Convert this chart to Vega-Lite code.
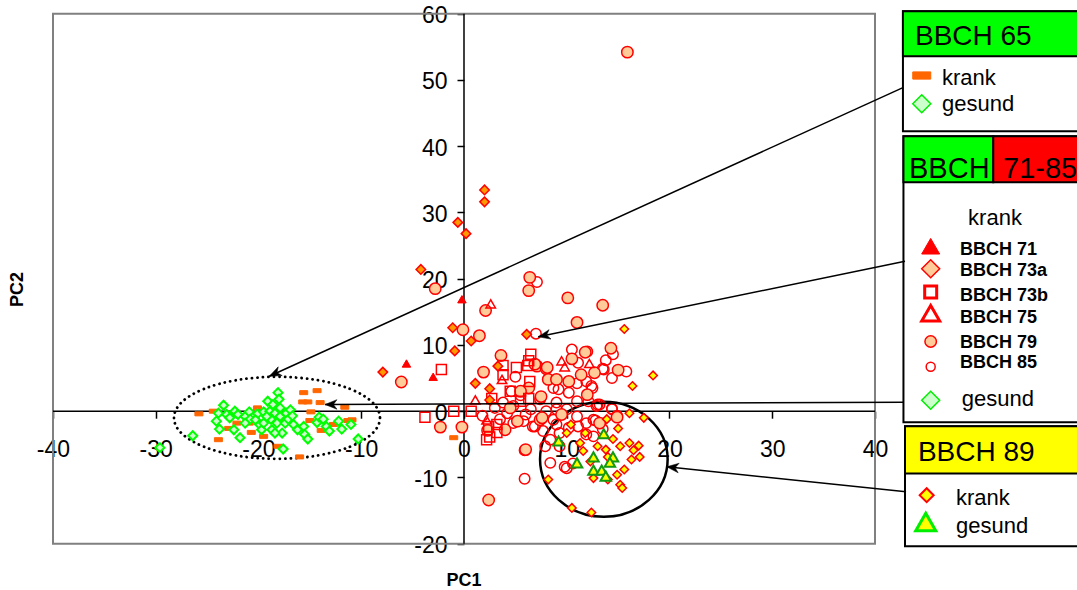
{
  "$schema": "https://vega.github.io/schema/vega-lite/v6.json",
  "width": 1077,
  "height": 590,
  "padding": 0,
  "autosize": {"type": "none"},
  "background": "white",
  "config": {"view": {"stroke": null}, "font": "Liberation Sans", "axis": {"grid": false}},
  "resolve": {"scale": {"fill": "independent", "stroke": "independent", "shape": "independent", "size": "independent", "strokeWidth": "independent"}},
  "encoding": {
    "x": {"field": "x", "type": "quantitative",
      "scale": {"domain": [-45.158, 59.66], "nice": false, "zero": false},
      "axis": {"orient": "bottom", "offset": -178.8, "values": [-40, -30, -20, -10, 0, 10, 20, 30, 40],
        "domain": false, "ticks": true, "tickSize": 7, "tickColor": "black", "tickWidth": 1.5,
        "labelFont": "Liberation Sans", "labelFontSize": 23, "labelColor": "black", "labelPadding": 20,
        "labelExpr": "datum.value < 0 ? '-' + (-datum.value) : '' + datum.value",
        "labelFlush": false, "labelOverlap": false, "labelBound": false, "title": null}},
    "y": {"field": "y", "type": "quantitative",
      "scale": {"domain": [-26.989, 62.068], "nice": false, "zero": false},
      "axis": {"orient": "left", "offset": -464, "values": [-20, -10, 0, 10, 20, 30, 40, 50, 60],
        "domain": false, "ticks": true, "tickSize": 7, "tickColor": "black", "tickWidth": 1.5,
        "labelFont": "Liberation Sans", "labelFontSize": 23, "labelColor": "black", "labelPadding": 10, "labelOffset": 2,
        "labelExpr": "datum.value < 0 ? '-' + (-datum.value) : '' + datum.value",
        "labelFlush": false, "labelOverlap": false, "labelBound": false, "title": null}}
  },
  "layer": [
    {
      "data": {"values": [{"x": -40, "x2": 40, "y": -20, "y2": 60}]},
      "mark": {"type": "rect", "fill": "transparent", "stroke": "#808080", "strokeWidth": 2},
      "encoding": {"x2": {"field": "x2"}, "y2": {"field": "y2"}}
    },
    {
      "data": {"values": [{"x": -40, "x2": 40, "y": 0, "y2": 0}, {"x": 0, "x2": 0, "y": -20, "y2": 60}]},
      "mark": {"type": "rule", "color": "black", "strokeWidth": 1.5},
      "encoding": {"x2": {"field": "x2"}, "y2": {"field": "y2"}}
    },
    {
      "data": {"values": [
        {"k": "b1", "x": 42.72, "x2": 61, "y": 42.26, "y2": 60.38},
        {"k": "h1", "x": 42.72, "x2": 61, "y": 53.58, "y2": 60.38},
        {"k": "b2", "x": 42.77, "x2": 61, "y": -1.66, "y2": 41.51},
        {"k": "h2g", "x": 42.77, "x2": 51.51, "y": 34.57, "y2": 41.51},
        {"k": "h2r", "x": 51.51, "x2": 61, "y": 34.57, "y2": 41.51},
        {"k": "b3", "x": 42.92, "x2": 61, "y": -20.38, "y2": -2.26},
        {"k": "h3", "x": 42.92, "x2": 61, "y": -9.4, "y2": -2.26}
      ]},
      "mark": {"type": "rect", "stroke": "black", "strokeWidth": 2, "opacity": 1},
      "encoding": {
        "x2": {"field": "x2"}, "y2": {"field": "y2"},
        "fill": {"field": "k", "type": "nominal", "legend": null,
          "scale": {"domain": ["b1", "h1", "b2", "h2g", "h2r", "b3", "h3"],
            "range": ["white", "#00FF00", "white", "#00FF00", "#FF0000", "white", "#FFFF00"]}}
      }
    },
    {
      "data": {"values": [{"x": -18.2, "y": -1.0}]},
      "mark": {"type": "point", "shape": "M1,0C1,0.2198,0.5523,0.398,0,0.398C-0.5523,0.398,-1,0.2198,-1,0C-1,-0.2198,-0.5523,-0.398,0,-0.398C0.5523,-0.398,1,-0.2198,1,0Z",
        "size": 42436, "filled": false, "fill": null, "stroke": "black", "strokeWidth": 2.8, "strokeDash": [0.1, 5.4], "strokeCap": "round", "opacity": 1}
    },
    {
      "data": {"values": [{"x": 13.61, "y": -7.26}]},
      "mark": {"type": "point", "shape": "M1,0C1,0.4976,0.5523,0.901,0,0.901C-0.5523,0.901,-1,0.4976,-1,0C-1,-0.4976,-0.5523,-0.901,0,-0.901C0.5523,-0.901,1,-0.4976,1,0Z",
        "size": 16282, "filled": false, "fill": null, "stroke": "black", "strokeWidth": 2.5, "opacity": 1}
    },
    {
      "data": {"values": [
        {"s":"65k","x":-25.8,"y":-0.4},{"s":"65k","x":-24.4,"y":0.0},{"s":"65k","x":-22.8,"y":-0.3},{"s":"65k","x":-22.9,"y":-2.6},{"s":"65k","x":-22.1,"y":-1.8},{"s":"65k","x":-23.9,"y":-4.3},{"s":"65k","x":-20.9,"y":-1.8},{"s":"65k","x":-20.7,"y":-3.2},{"s":"65k","x":-19.5,"y":-3.8},{"s":"65k","x":-20.1,"y":0.5},{"s":"65k","x":-18.1,"y":-5.3},{"s":"65k","x":-18.0,"y":-1.5},{"s":"65k","x":-16.0,"y":-6.9},{"s":"65k","x":-15.6,"y":2.8},{"s":"65k","x":-14.3,"y":3.1},{"s":"65k","x":-14.0,"y":1.3},{"s":"65k","x":-15.7,"y":1.4},{"s":"65k","x":-15.2,"y":1.4},{"s":"65k","x":-14.9,"y":-0.1},{"s":"65k","x":-15.0,"y":-1.4},{"s":"65k","x":-13.9,"y":-2.9},{"s":"65k","x":-12.7,"y":-2.0},{"s":"65k","x":-11.6,"y":0.6},{"s":"65k","x":-11.3,"y":-1.4},{"s":"65k","x":-10.9,"y":-1.3},{"s":"65k","x":-1.0,"y":-4.0},
        {"s":"65g","x":-26.4,"y":-3.7},{"s":"65g","x":-23.9,"y":-0.3},{"s":"65g","x":-24.1,"y":-1.5},{"s":"65g","x":-23.8,"y":-2.7},{"s":"65g","x":-23.4,"y":0.9},{"s":"65g","x":-23.1,"y":-0.5},{"s":"65g","x":-22.4,"y":-2.8},{"s":"65g","x":-22.3,"y":0.0},{"s":"65g","x":-22.0,"y":-0.5},{"s":"65g","x":-21.8,"y":-4.0},{"s":"65g","x":-21.3,"y":-0.8},{"s":"65g","x":-20.9,"y":-0.1},{"s":"65g","x":-20.8,"y":-1.2},{"s":"65g","x":-20.1,"y":-0.4},{"s":"65g","x":-19.9,"y":-2.0},{"s":"65g","x":-19.7,"y":-2.8},{"s":"65g","x":-19.5,"y":-0.1},{"s":"65g","x":-19.1,"y":1.5},{"s":"65g","x":-18.9,"y":0.0},{"s":"65g","x":-18.8,"y":-1.2},{"s":"65g","x":-18.7,"y":-2.8},{"s":"65g","x":-18.6,"y":1.0},{"s":"65g","x":-18.4,"y":-0.3},{"s":"65g","x":-18.2,"y":-1.8},{"s":"65g","x":-18.1,"y":2.8},{"s":"65g","x":-18.0,"y":1.8},{"s":"65g","x":-17.9,"y":0.5},{"s":"65g","x":-17.9,"y":-0.8},{"s":"65g","x":-17.7,"y":-3.3},{"s":"65g","x":-17.4,"y":-1.8},{"s":"65g","x":-17.3,"y":-0.3},{"s":"65g","x":-17.1,"y":-1.2},{"s":"65g","x":-16.9,"y":0.2},{"s":"65g","x":-16.7,"y":-0.7},{"s":"65g","x":-16.6,"y":-2.0},{"s":"65g","x":-16.2,"y":-2.8},{"s":"65g","x":-15.6,"y":-2.3},{"s":"65g","x":-15.5,"y":-3.5},{"s":"65g","x":-15.2,"y":-4.2},{"s":"65g","x":-14.3,"y":-1.7},{"s":"65g","x":-14.1,"y":-0.9},{"s":"65g","x":-13.7,"y":-1.2},{"s":"65g","x":-13.4,"y":-2.3},{"s":"65g","x":-13.1,"y":-3.0},{"s":"65g","x":-12.2,"y":-1.5},{"s":"65g","x":-11.9,"y":-2.7},{"s":"65g","x":-11.0,"y":-2.0},{"s":"65g","x":-17.6,"y":-5.7},{"s":"65g","x":-19.2,"y":-0.8},{"s":"65g","x":-21.3,"y":-1.8},{"s":"65g","x":-22.8,"y":-1.0},{"s":"65g","x":-18.4,"y":-3.3},{"s":"65g","x":-19.5,"y":-1.8},{"s":"65g","x":-20.3,"y":-1.3},{"s":"65g","x":-29.6,"y":-5.5},{"s":"65g","x":-10.3,"y":-4.2},
        {"s":"85","x":7.1,"y":19.5},{"s":"85","x":7.0,"y":11.7},{"s":"85","x":14.5,"y":8.6},{"s":"85","x":11.1,"y":7.3},{"s":"85","x":13.8,"y":7.7},{"s":"85","x":13.6,"y":6.3},{"s":"85","x":15.8,"y":6.0},{"s":"85","x":14.4,"y":5.0},{"s":"85","x":11.9,"y":4.5},{"s":"85","x":12.5,"y":3.5},{"s":"85","x":9.2,"y":3.3},{"s":"85","x":10.2,"y":2.8},{"s":"85","x":13.2,"y":1.0},{"s":"85","x":12.1,"y":1.5},{"s":"85","x":11.0,"y":1.5},{"s":"85","x":14.4,"y":0.4},{"s":"85","x":11.9,"y":-1.8},{"s":"85","x":12.8,"y":-1.4},{"s":"85","x":13.0,"y":1.0},{"s":"85","x":14.4,"y":0.3},{"s":"85","x":14.9,"y":-0.7},{"s":"85","x":8.4,"y":-7.8},{"s":"85","x":10.0,"y":-8.6},{"s":"85","x":5.9,"y":-10.2},{"s":"85","x":5.9,"y":-5.9},{"s":"85","x":9.8,"y":-8.4},{"s":"85","x":10.6,"y":-7.9},{"s":"85","x":7.9,"y":-5.3},{"s":"85","x":8.4,"y":-4.3},{"s":"85","x":11.0,"y":4.2},{"s":"85","x":12.4,"y":3.8},{"s":"85","x":9.0,"y":1.3},{"s":"85","x":12.9,"y":0.8},{"s":"85","x":8.7,"y":-1.3},{"s":"85","x":7.7,"y":-3.0},{"s":"85","x":9.3,"y":-5.3},{"s":"85","x":12.6,"y":-1.3},{"s":"85","x":11.9,"y":-3.5},{"s":"85","x":12.6,"y":-3.8},{"s":"85","x":5.5,"y":2.4},{"s":"85","x":4.6,"y":3.0},{"s":"85","x":6.5,"y":0.3},{"s":"85","x":3.8,"y":1.3},{"s":"85","x":4.8,"y":0.8},{"s":"85","x":5.8,"y":-1.5},{"s":"85","x":6.7,"y":-2.3},{"s":"85","x":4.2,"y":-0.3},{"s":"85","x":10.2,"y":-2.5},{"s":"85","x":11.1,"y":-2.3},{"s":"85","x":9.0,"y":0.3},{"s":"85","x":10.0,"y":0.3},{"s":"85","x":4.8,"y":-1.8},{"s":"85","x":9.3,"y":-3.3},{"s":"85","x":6.9,"y":-2.3},{"s":"85","x":8.7,"y":3.5},{"s":"85","x":7.4,"y":1.8},{"s":"85","x":5.0,"y":5.2},{"s":"85","x":13.5,"y":6.4},{"s":"85","x":10.5,"y":9.3},{"s":"85","x":12.0,"y":9.0},{"s":"85","x":3.0,"y":0.5},{"s":"85","x":1.8,"y":-0.7},{"s":"85","x":3.5,"y":-1.2},{"s":"85","x":8.0,"y":0.0},{"s":"85","x":6.0,"y":-0.5},{"s":"85","x":9.0,"y":-2.0},{"s":"85","x":11.0,"y":-0.8},{"s":"85","x":13.5,"y":-2.7},
        {"s":"79","x":15.9,"y":54.2},{"s":"79","x":-2.8,"y":18.5},{"s":"79","x":6.4,"y":20.2},{"s":"79","x":6.3,"y":18.2},{"s":"79","x":10.1,"y":17.1},{"s":"79","x":13.5,"y":16.0},{"s":"79","x":11.0,"y":13.4},{"s":"79","x":2.1,"y":15.2},{"s":"79","x":-0.1,"y":12.3},{"s":"79","x":1.5,"y":11.4},{"s":"79","x":7.1,"y":6.8},{"s":"79","x":8.0,"y":6.4},{"s":"79","x":8.2,"y":4.8},{"s":"79","x":-6.1,"y":4.4},{"s":"79","x":-2.3,"y":-2.4},{"s":"79","x":-0.2,"y":-2.4},{"s":"79","x":2.4,"y":-13.4},{"s":"79","x":14.3,"y":9.5},{"s":"79","x":11.8,"y":8.9},{"s":"79","x":15.0,"y":6.2},{"s":"79","x":11.4,"y":5.5},{"s":"79","x":10.2,"y":4.5},{"s":"79","x":9.0,"y":4.8},{"s":"79","x":14.9,"y":-0.9},{"s":"79","x":7.5,"y":2.2},{"s":"79","x":8.1,"y":6.6},{"s":"79","x":12.7,"y":5.8},{"s":"79","x":6.9,"y":7.1},{"s":"79","x":5.2,"y":-1.5},{"s":"79","x":4.0,"y":-2.8},{"s":"79","x":7.4,"y":-1.3},{"s":"79","x":6.0,"y":-5.8},{"s":"79","x":2.3,"y":-2.9},{"s":"79","x":7.6,"y":-1.0},{"s":"79","x":1.9,"y":5.9},{"s":"79","x":6.3,"y":3.5},{"s":"79","x":4.5,"y":0.5},{"s":"79","x":5.5,"y":3.0},{"s":"79","x":9.5,"y":-0.5},{"s":"79","x":12.0,"y":2.5},{"s":"79","x":13.2,"y":-1.8},{"s":"79","x":10.5,"y":7.9},{"s":"79","x":3.6,"y":8.4},
        {"s":"73b","x":-2.2,"y":6.3},{"s":"73b","x":6.5,"y":8.6},{"s":"73b","x":3.8,"y":6.9},{"s":"73b","x":5.1,"y":6.6},{"s":"73b","x":6.4,"y":4.5},{"s":"73b","x":-1.0,"y":0.0},{"s":"73b","x":0.7,"y":0.0},{"s":"73b","x":-3.8,"y":-0.9},{"s":"73b","x":3.8,"y":5.5},{"s":"73b","x":6.2,"y":6.9},{"s":"73b","x":2.7,"y":1.9},{"s":"73b","x":5.5,"y":1.5},{"s":"73b","x":6.3,"y":1.9},{"s":"73b","x":2.4,"y":-2.3},{"s":"73b","x":3.2,"y":-3.2},{"s":"73b","x":2.5,"y":-3.9},{"s":"73b","x":3.2,"y":-2.0},{"s":"73b","x":2.2,"y":-4.3},{"s":"73b","x":6.3,"y":7.6},{"s":"73b","x":4.5,"y":3.0},
        {"s":"75","x":1.1,"y":1.7},{"s":"75","x":2.2,"y":-1.3},{"s":"75","x":9.8,"y":6.7},{"s":"75","x":9.5,"y":7.6},{"s":"75","x":12.2,"y":7.2},{"s":"75","x":2.6,"y":16.2},{"s":"75","x":3.7,"y":4.8},
        {"s":"71","x":-0.2,"y":16.9},{"s":"71","x":-5.6,"y":7.2},{"s":"71","x":-3.0,"y":5.2},
        {"s":"73a","x":2.0,"y":33.4},{"s":"73a","x":2.0,"y":31.6},{"s":"73a","x":-0.6,"y":28.5},{"s":"73a","x":0.2,"y":26.8},{"s":"73a","x":-4.2,"y":21.4},{"s":"73a","x":-7.9,"y":5.9},{"s":"73a","x":-1.1,"y":12.6},{"s":"73a","x":0.7,"y":10.6},{"s":"73a","x":-0.9,"y":9.1},{"s":"73a","x":6.1,"y":11.6},{"s":"73a","x":1.1,"y":4.2},{"s":"73a","x":2.5,"y":3.4},{"s":"73a","x":2.5,"y":1.7},{"s":"73a","x":3.3,"y":6.8},
        {"s":"89k","x":15.6,"y":12.4},{"s":"89k","x":18.4,"y":5.4},{"s":"89k","x":16.4,"y":3.8},{"s":"89k","x":16.1,"y":-0.3},{"s":"89k","x":17.5,"y":-1.0},{"s":"89k","x":13.9,"y":-1.2},{"s":"89k","x":10.4,"y":-2.0},{"s":"89k","x":11.8,"y":-3.3},{"s":"89k","x":14.5,"y":-4.2},{"s":"89k","x":16.1,"y":-4.8},{"s":"89k","x":17.0,"y":-5.2},{"s":"89k","x":16.5,"y":-5.9},{"s":"89k","x":17.1,"y":-6.9},{"s":"89k","x":16.3,"y":-7.3},{"s":"89k","x":15.2,"y":-5.3},{"s":"89k","x":13.0,"y":-5.3},{"s":"89k","x":11.6,"y":-6.0},{"s":"89k","x":11.3,"y":-4.8},{"s":"89k","x":15.6,"y":-8.8},{"s":"89k","x":14.9,"y":-9.6},{"s":"89k","x":15.2,"y":-11.1},{"s":"89k","x":15.4,"y":-11.6},{"s":"89k","x":12.6,"y":-10.1},{"s":"89k","x":14.0,"y":-10.3},{"s":"89k","x":8.2,"y":-10.3},{"s":"89k","x":10.5,"y":-14.6},{"s":"89k","x":12.4,"y":-15.3},{"s":"89k","x":10.0,"y":-3.3},{"s":"89k","x":13.8,"y":-5.8},{"s":"89k","x":15.0,"y":-2.6},{"s":"89k","x":12.3,"y":-7.6},{"s":"89k","x":14.0,"y":-6.9},
        {"s":"89g","x":13.6,"y":-3.4},{"s":"89g","x":12.6,"y":-6.9},{"s":"89g","x":11.0,"y":-7.8},{"s":"89g","x":14.5,"y":-6.9},{"s":"89g","x":14.2,"y":-7.7},{"s":"89g","x":12.6,"y":-8.9},{"s":"89g","x":13.4,"y":-8.9},{"s":"89g","x":13.8,"y":-9.8},{"s":"89g","x":9.2,"y":-4.5},
        {"s":"L65k","x":44.55,"y":50.67},{"s":"L65g","x":44.55,"y":46.4},{"s":"L71","x":45.42,"y":24.9},{"s":"L73a","x":45.42,"y":21.5},{"s":"L73b","x":45.42,"y":18.0},{"s":"L75","x":45.42,"y":14.78},{"s":"L79","x":45.42,"y":10.52},{"s":"L85","x":45.42,"y":6.71},{"s":"Lg","x":45.42,"y":1.65},{"s":"L89k","x":45.03,"y":-12.68},{"s":"L89g","x":44.94,"y":-16.72}
      ]},
      "mark": {"type": "point", "filled": true, "opacity": 1},
      "encoding": {
        "shape": {"field": "s", "type": "nominal", "legend": null,
          "scale": {"domain": ["65k","65g","71","73a","73b","75","79","85","89k","89g","L65k","L65g","L71","L73a","L73b","L75","L79","L85","Lg","L89k","L89g"],
            "range": ["M-1,-0.5L1,-0.5L1,0.5L-1,0.5Z","diamond","triangle-up","diamond","square","triangle-up","circle","circle","diamond","triangle-up","M-1,-0.4L1,-0.4L1,0.4L-1,0.4Z","diamond","triangle-up","diamond","square","triangle-up","circle","circle","diamond","diamond","triangle-up"]}},
        "fill": {"field": "s", "type": "nominal", "legend": null,
          "scale": {"domain": ["65k","65g","71","73a","73b","75","79","85","89k","89g","L65k","L65g","L71","L73a","L73b","L75","L79","L85","Lg","L89k","L89g"],
            "range": ["#FF6600","#CCFFCC","#FF0000","#FF9900","transparent","transparent","#FFCC99","transparent","#FFFF00","#FFFF00","#FF6600","#CCFFCC","#FF0000","#FFCC99","transparent","transparent","#FFCC99","transparent","#CCFFCC","#FFFF00","#FFFF00"]}},
        "stroke": {"field": "s", "type": "nominal", "legend": null,
          "scale": {"domain": ["65k","65g","71","73a","73b","75","79","85","89k","89g","L65k","L65g","L71","L73a","L73b","L75","L79","L85","Lg","L89k","L89g"],
            "range": ["#FF6600","#00FF00","#FF0000","#FF0000","#FF0000","#FF0000","#FF0000","#FF0000","#FF0000","#119911","#FF6600","#00EE00","#FF0000","#FF0000","#FF0000","#FF0000","#FF0000","#FF0000","#00EE00","#FF0000","#00EE00"]}},
        "size": {"field": "s", "type": "nominal", "legend": null,
          "scale": {"type": "ordinal", "domain": ["65k","65g","71","73a","73b","75","79","85","89k","89g","L65k","L65g","L71","L73a","L73b","L75","L79","L85","Lg","L89k","L89g"],
            "range": [64,81,72,90,100,90,130,110,72,110,324,324,324,324,144,324,132,81,324,196,400]}},
        "strokeWidth": {"field": "s", "type": "nominal", "legend": null,
          "scale": {"type": "ordinal", "domain": ["65k","65g","71","73a","73b","75","79","85","89k","89g","L65k","L65g","L71","L73a","L73b","L75","L79","L85","Lg","L89k","L89g"],
            "range": [1,2,1,1.5,1.5,1.5,1.5,1.5,1.5,2,1,1.5,1,1.5,3,3,1.5,1.5,1.5,2,3]}}
      }
    },
    {
      "data": {"values": [
        {"x": 42.72, "y": 48.85, "x2": -18.95, "y2": 5.28},
        {"x": 42.92, "y": 22.64, "x2": 7.23, "y2": 11.23},
        {"x": 42.82, "y": 1.36, "x2": -13.53, "y2": 1.01},
        {"x": 43.02, "y": -12.17, "x2": 19.73, "y2": -8.39}
      ]},
      "mark": {"type": "rule", "color": "black", "strokeWidth": 1.5},
      "encoding": {"x2": {"field": "x2"}, "y2": {"field": "y2"}}
    },
    {
      "data": {"values": [{"x": -18.95, "y": 5.28}]},
      "mark": {"type": "point", "shape": "M0,0L-1,-0.4L-0.7,0L-1,0.4Z", "size": 576, "angle": 155.5, "filled": true, "fill": "black", "stroke": "black", "strokeWidth": 0.5, "opacity": 1}
    },
    {
      "data": {"values": [{"x": 7.23, "y": 11.23}]},
      "mark": {"type": "point", "shape": "M0,0L-1,-0.4L-0.7,0L-1,0.4Z", "size": 576, "angle": 168.35, "filled": true, "fill": "black", "stroke": "black", "strokeWidth": 0.5, "opacity": 1}
    },
    {
      "data": {"values": [{"x": -13.53, "y": 1.01}]},
      "mark": {"type": "point", "shape": "M0,0L-1,-0.4L-0.7,0L-1,0.4Z", "size": 576, "angle": 179.77, "filled": true, "fill": "black", "stroke": "black", "strokeWidth": 0.5, "opacity": 1}
    },
    {
      "data": {"values": [{"x": 19.73, "y": -8.39}]},
      "mark": {"type": "point", "shape": "M0,0L-1,-0.4L-0.7,0L-1,0.4Z", "size": 576, "angle": 185.96, "filled": true, "fill": "black", "stroke": "black", "strokeWidth": 0.5, "opacity": 1}
    },
    {
      "data": {"values": [{"t": "BBCH 65", "x": 43.89, "y": 55.35}, {"t": "BBCH 89", "x": 44.18, "y": -7.55}]},
      "mark": {"type": "text", "align": "left", "baseline": "alphabetic", "fontSize": 28, "font": "Liberation Sans", "color": "black"},
      "encoding": {"text": {"field": "t"}}
    },
    {
      "data": {"values": [{"t": "BBCH", "x": 43.31, "y": 35.23}, {"t": "71-85", "x": 52.46, "y": 35.23}]},
      "mark": {"type": "text", "align": "left", "baseline": "alphabetic", "fontSize": 29, "font": "Liberation Sans", "color": "black"},
      "encoding": {"text": {"field": "t"}}
    },
    {
      "data": {"values": [
        {"t": "krank", "x": 46.52, "y": 49.31}, {"t": "gesund", "x": 46.52, "y": 45.34},
        {"t": "gesund", "x": 48.44, "y": 0.75}, {"t": "krank", "x": 47.88, "y": -14.23}, {"t": "gesund", "x": 47.88, "y": -18.35}
      ]},
      "mark": {"type": "text", "align": "left", "baseline": "alphabetic", "fontSize": 22, "font": "Liberation Sans", "color": "black"},
      "encoding": {"text": {"field": "t"}}
    },
    {
      "data": {"values": [{"t": "krank", "x": 51.68, "y": 28.15}]},
      "mark": {"type": "text", "align": "center", "baseline": "alphabetic", "fontSize": 22, "font": "Liberation Sans", "color": "black"},
      "encoding": {"text": {"field": "t"}}
    },
    {
      "data": {"values": [
        {"t": "BBCH 71", "x": 48.27, "y": 23.65}, {"t": "BBCH 73a", "x": 48.27, "y": 20.38}, {"t": "BBCH 73b", "x": 48.27, "y": 16.6},
        {"t": "BBCH 75", "x": 48.27, "y": 13.24}, {"t": "BBCH 79", "x": 48.27, "y": 9.57}, {"t": "BBCH 85", "x": 48.27, "y": 6.45}
      ]},
      "mark": {"type": "text", "align": "left", "baseline": "alphabetic", "fontSize": 18, "fontWeight": "bold", "font": "Liberation Sans", "color": "black"},
      "encoding": {"text": {"field": "t"}}
    },
    {
      "data": {"values": [{"t": "PC1", "x": 0, "y": -26.38}]},
      "mark": {"type": "text", "align": "center", "baseline": "alphabetic", "fontSize": 18, "fontWeight": "bold", "font": "Liberation Sans", "color": "black"},
      "encoding": {"text": {"field": "t"}}
    },
    {
      "data": {"values": [{"t": "PC2", "x": -43.41, "y": 18.37}]},
      "mark": {"type": "text", "align": "center", "baseline": "middle", "angle": 270, "fontSize": 18, "fontWeight": "bold", "font": "Liberation Sans", "color": "black"},
      "encoding": {"text": {"field": "t"}}
    }
  ]
}
